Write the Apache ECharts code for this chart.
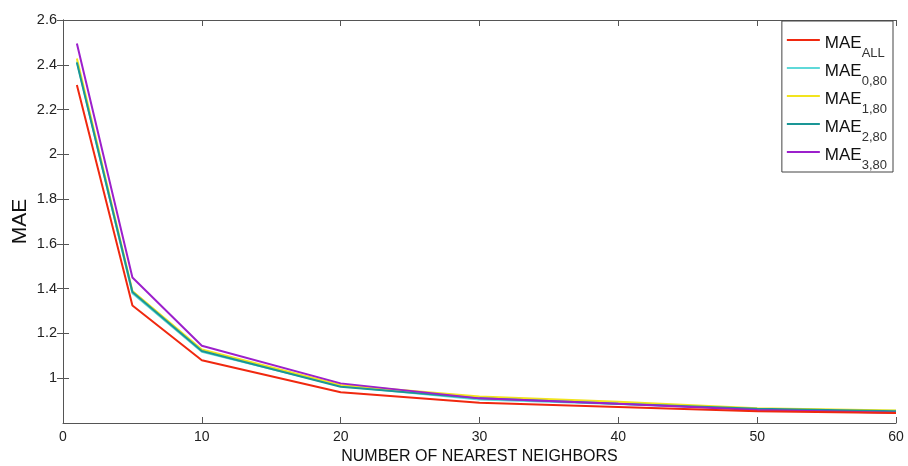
<!DOCTYPE html>
<html><head><meta charset="utf-8">
<script src="https://cdn.jsdelivr.net/npm/echarts@6/dist/echarts.min.js"></script>
<style>html,body{margin:0;padding:0;background:#fff}#c{width:908px;height:466px}</style>
</head><body><div id="c"></div>
<script>
const neighbors = [1, 5, 10, 20, 30, 40, 50, 60];
const seriesNames = ['ALL', '0,80', '1,80', '2,80', '3,80'];
const maeAll = [2.31, 1.325, 1.08, 0.937, 0.89, 0.872, 0.852, 0.845];
const mae080 = [2.415, 1.38, 1.118, 0.965, 0.905, 0.885, 0.862, 0.855];
const mae180 = [2.428, 1.39, 1.128, 0.97, 0.918, 0.895, 0.866, 0.856];
const mae280 = [2.41, 1.385, 1.122, 0.962, 0.91, 0.886, 0.864, 0.852];
const mae380 = [2.495, 1.45, 1.145, 0.977, 0.91, 0.886, 0.858, 0.846];
const colors = ['#f0280f', '#5fd9d9', '#f2e41e', '#1a9696', '#9c20cc'];
const xTicks = [0, 10, 20, 30, 40, 50, 60];
const yTicks = [1, 1.2, 1.4, 1.6, 1.8, 2, 2.2, 2.4, 2.6];

const allData = [maeAll, mae080, mae180, mae280, mae380];
const font = 'Liberation Sans, Arial, sans-serif';
const axisLineStyle = {color: '#555', width: 1};
const chart = echarts.init(document.getElementById('c'));
chart.setOption({
  animation: false,
  textStyle: {fontFamily: font},
  grid: {left: 63, right: 12, top: 20, bottom: 43, outerBoundsMode: 'none', containLabel: false},
  legend: {
    orient: 'vertical', right: 15, top: 21,
    itemWidth: 33, itemHeight: 2, itemGap: -1,
    backgroundColor: '#fff', borderColor: '#444', borderWidth: 1,
    padding: [10, 6, 0, 5],
    icon: 'rect',
    data: seriesNames.map(n => n),
    formatter: n => '{m|MAE}{s|' + n + '}',
    textStyle: {
      rich: {
        m: {fontSize: 17, color: '#111', fontFamily: font, verticalAlign: 'top', lineHeight: 18, padding: [4, 0, 0, 0]},
        s: {fontSize: 13, color: '#333', fontFamily: font, verticalAlign: 'top', lineHeight: 14, padding: [16, 0, 0, 0]}
      }
    }
  },
  xAxis: [{
    type: 'value', min: 0, max: 60, interval: 10,
    name: 'NUMBER OF NEAREST NEIGHBORS', nameLocation: 'middle', nameGap: 25,
    nameTextStyle: {fontSize: 16, color: '#111', fontFamily: font},
    axisLine: {lineStyle: axisLineStyle},
    axisTick: {inside: true, length: 6, lineStyle: axisLineStyle},
    axisLabel: {fontSize: 14, color: '#222', margin: 7, customValues: xTicks},
    splitLine: {show: false}
  }, {
    type: 'value', min: 0, max: 60, interval: 10, position: 'top',
    axisLine: {show: true, lineStyle: axisLineStyle},
    axisTick: {inside: true, length: 6, lineStyle: axisLineStyle},
    axisLabel: {show: false}, splitLine: {show: false}
  }],
  yAxis: [{
    type: 'value', min: 0.8, max: 2.6, interval: 0.2,
    name: 'MAE', nameLocation: 'middle', nameGap: 32, nameMoveOverlap: false,
    nameTextStyle: {fontSize: 21, color: '#111', fontFamily: font},
    axisLine: {show: true, lineStyle: axisLineStyle},
    axisTick: {inside: true, length: 6, lineStyle: axisLineStyle, customValues: yTicks},
    axisLabel: {fontSize: 14.5, color: '#222', margin: 6, customValues: yTicks,
      formatter: v => String(Math.round(v * 10) / 10)},
    splitLine: {show: false}
  }, {
    type: 'value', min: 0.8, max: 2.6, interval: 0.2, position: 'right',
    axisLine: {show: true, lineStyle: axisLineStyle},
    axisTick: {inside: true, length: 6, lineStyle: axisLineStyle, customValues: yTicks},
    axisLabel: {show: false}, splitLine: {show: false}
  }],
  series: seriesNames.map((n, i) => ({
    name: n, type: 'line', xAxisIndex: 0, yAxisIndex: 0,
    data: neighbors.map((x, j) => [x, allData[i][j]]),
    symbol: 'none', showSymbol: false,
    lineStyle: {color: colors[i], width: 2},
    itemStyle: {color: colors[i]},
    z: i === 0 ? 10 : 5 + i
  }))
});
</script></body></html>
